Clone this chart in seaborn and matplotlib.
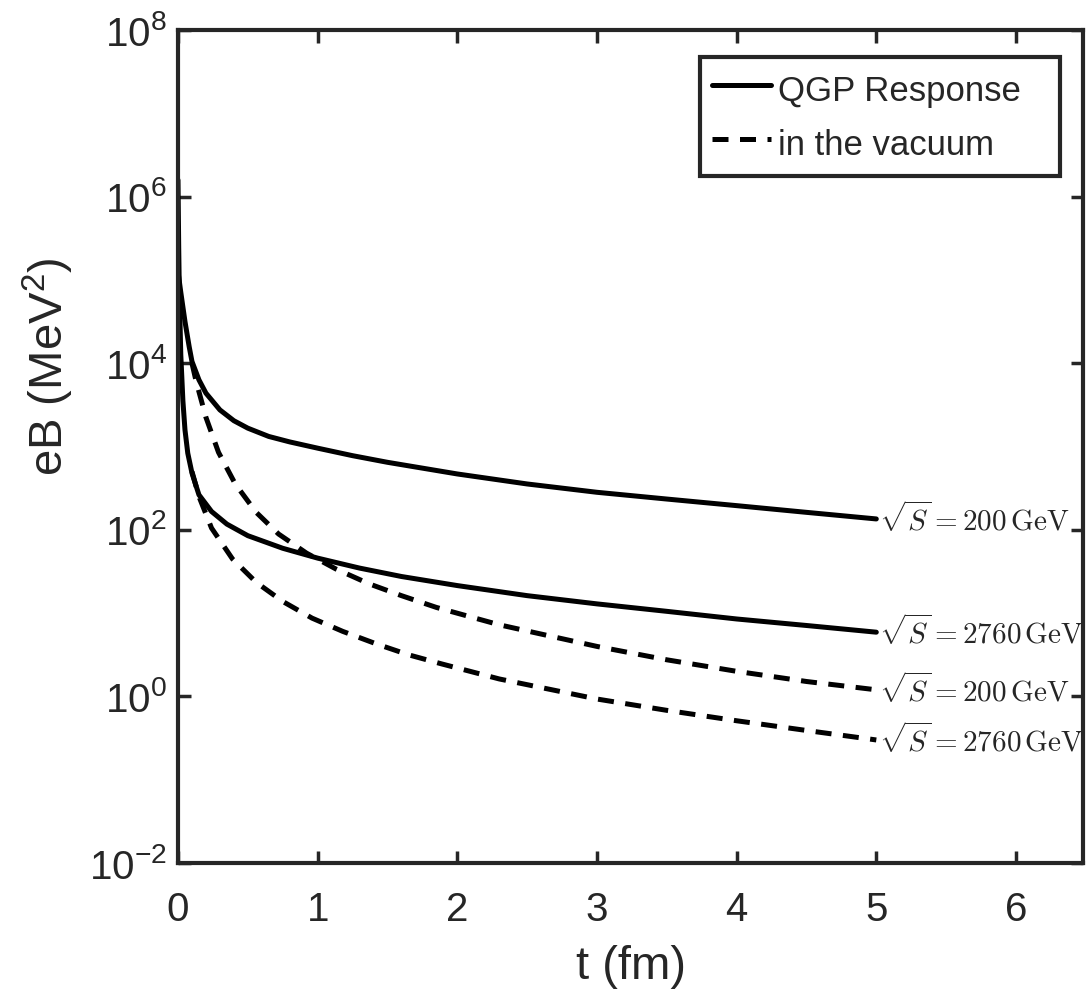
import numpy as np
import pandas as pd
import matplotlib
matplotlib.use("Agg")
import matplotlib.pyplot as plt
import seaborn as sns
from matplotlib.ticker import FixedLocator, FuncFormatter, NullLocator
from matplotlib.lines import Line2D

# ---------------- data ----------------
t_qgp_200 = [0.0, 0.02, 0.05, 0.08, 0.1, 0.15, 0.2, 0.3, 0.4, 0.5, 0.65, 0.8,
             1.0, 1.25, 1.5, 2.0, 2.5, 3.0, 3.5, 4.0, 4.5, 5.0]
qgp_200 = [1.26e5, 7.1e4, 3.16e4, 1.58e4, 1.05e4, 6.31e3, 4.37e3, 2.75e3,
           2.04e3, 1.66e3, 1.32e3, 1.135e3, 9.55e2, 7.76e2, 6.46e2, 4.68e2,
           3.55e2, 2.82e2, 2.34e2, 1.95e2, 1.62e2, 1.35e2]

t_qgp_2760 = [0.0, 0.005, 0.01, 0.02, 0.035, 0.05, 0.07, 0.1, 0.15, 0.24,
              0.35, 0.5, 0.75, 1.0, 1.3, 1.6, 2.0, 2.5, 3.0, 3.5, 4.0,
              4.5, 5.0]
qgp_2760 = [1.58e6, 2.5e5, 6.3e4, 1.26e4, 3.55e3, 1.58e3, 8.3e2, 4.8e2,
            2.63e2, 1.66e2, 1.17e2, 85.0, 60.0, 45.7, 34.7, 27.5, 21.4,
            16.2, 12.9, 10.5, 8.5, 7.1, 5.9]

t_vac_200 = [0.1, 0.13, 0.2, 0.29, 0.41, 0.56, 0.72, 0.92, 1.13, 1.37, 1.6,
             1.85, 2.3, 3.0, 3.5, 4.0, 4.5, 5.0]
vac_200 = [1.0e4, 6.03e3, 2.24e3, 8.51e2, 3.55e2, 1.62e2, 89.0, 52.5, 33.9,
           22.4, 16.2, 11.7, 7.24, 3.98, 2.75, 2.0, 1.51, 1.2]

t_vac_2760 = [0.1, 0.15, 0.24, 0.39, 0.56, 0.75, 0.96, 1.18, 1.42, 1.65,
              1.89, 2.3, 3.0, 3.5, 4.0, 4.5, 5.0]
vac_2760 = [5.01e2, 2.51e2, 1.05e2, 44.7, 23.4, 13.8, 8.7, 6.03, 4.27, 3.16,
            2.45, 1.62, 0.93, 0.68, 0.51, 0.39, 0.30]

end_labels = [r"$\sqrt{S}=200\,\mathrm{GeV}$", r"$\sqrt{S}=2760\,\mathrm{GeV}$",
              r"$\sqrt{S}=200\,\mathrm{GeV}$", r"$\sqrt{S}=2760\,\mathrm{GeV}$"]
legend_labels = ["QGP Response", "in the vacuum"]
x_ticks = [0, 1, 2, 3, 4, 5, 6]
y_exps = [-2, 0, 2, 4, 6, 8]

# ---------------- style ----------------
sns.set_style("ticks")
plt.rcParams["font.family"] = ["Liberation Sans", "DejaVu Sans"]
plt.rcParams["mathtext.fontset"] = "custom"
plt.rcParams["mathtext.rm"] = "Liberation Sans"
plt.rcParams["mathtext.it"] = "Liberation Sans:italic"
plt.rcParams["mathtext.bf"] = "Liberation Sans:bold"

axcol = "#262626"
W, H = 1087, 996
fig = plt.figure(figsize=(W / 100, H / 100), dpi=100)
L, R, T, B = 178, 1083, 30, 863
ax = fig.add_axes([L / W, 1 - B / H, (R - L) / W, (B - T) / H])

dash = (0, (3.2, 2.3))
series = [
    (t_qgp_200, qgp_200, "-"),
    (t_qgp_2760, qgp_2760, "-"),
    (t_vac_200, vac_200, dash),
    (t_vac_2760, vac_2760, dash),
]
lw = 3.6
for (tt, yy, ls), lab in zip(series, end_labels):
    df = pd.DataFrame({"t": tt, "eB": yy})
    sns.lineplot(data=df, x="t", y="eB", ax=ax, color="black", lw=lw,
                 linestyle=ls, estimator=None, sort=False)
    ax.annotate(lab, xy=(tt[-1], yy[-1]), xytext=(2, 0),
                textcoords="offset points", ha="left", va="center",
                fontsize=21, math_fontfamily="cm", clip_on=False,
                annotation_clip=False)

ax.set_yscale("log")
ax.set_xlim(0, 6.48)
ax.set_ylim(1e-2, 1e8)
ax.xaxis.set_major_locator(FixedLocator(x_ticks))
ax.yaxis.set_major_locator(FixedLocator([10.0 ** e for e in y_exps]))
ax.yaxis.set_minor_locator(NullLocator())
ax.yaxis.set_major_formatter(FuncFormatter(
    lambda v, p: r"$\mathregular{10^{%d}}$" % int(round(np.log10(v)))))

ax.tick_params(axis="both", which="major", direction="in", length=9,
               width=2.5, color=axcol, labelsize=29, labelcolor=axcol,
               top=True, right=True)
ax.tick_params(axis="x", pad=20)
ax.tick_params(axis="y", pad=8)
for sp in ax.spines.values():
    sp.set_linewidth(3)
    sp.set_color(axcol)

ax.set_xlabel("t (fm)", fontsize=34, color=axcol, labelpad=12)
ax.set_ylabel(r"eB (MeV$^2$)", fontsize=34, color=axcol)
ax.yaxis.set_label_coords((76 - L) / (R - L), (B - 367) / (B - T))

handles = [Line2D([], [], color="black", lw=lw, linestyle="-"),
           Line2D([], [], color="black", lw=lw, linestyle=dash)]
x0 = (700 - L) / (R - L)
x1 = (1060 - L) / (R - L)
ytop = (B - 57) / (B - T)
leg = ax.legend(handles, legend_labels, loc="upper left",
                bbox_to_anchor=(x0, 0.0, x1 - x0, ytop), mode="expand",
                borderaxespad=0, fontsize=25, frameon=True, fancybox=False,
                handlelength=1.7, handletextpad=0.2, borderpad=0.35,
                handleheight=1.45, labelspacing=0.35)
leg.get_frame().set_edgecolor(axcol)
leg.get_frame().set_linewidth(3)
leg.get_frame().set_facecolor("white")
leg.get_frame().set_alpha(1)

fig.savefig("out.png", dpi=100)
